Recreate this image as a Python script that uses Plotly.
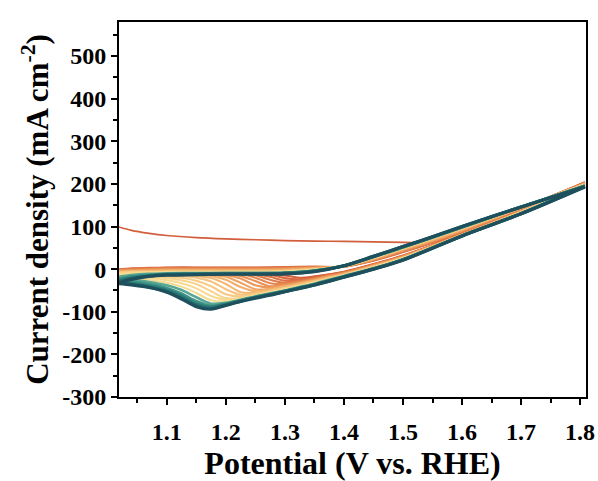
import plotly.graph_objects as go

# Potential grids (V vs. RHE) for the anodic (forward) and cathodic (reverse) sweeps
potential_fwd = [1.019, 1.04, 1.07, 1.10, 1.15, 1.20, 1.25, 1.30, 1.35, 1.40,
                 1.45, 1.50, 1.55, 1.60, 1.70, 1.808]
potential_rev = [1.808, 1.70, 1.60, 1.50, 1.45, 1.40, 1.375, 1.35, 1.325, 1.30,
                 1.275, 1.25, 1.225, 1.20, 1.175, 1.15, 1.125, 1.10, 1.07, 1.04, 1.019]

# First anodic sweep (starts from the rest potential with a large capacitive current)
first_scan_j = [99, 91, 84, 79, 74, 71, 69, 67, 66, 65, 64, 63, 63, 86, 142, 204]

# Anodic sweeps of cycles 2..20 (mA cm^-2), on potential_fwd
anodic_j = [
    [-1, 2, 3, 4, 4, 4, 4, 5, 6, 6, 20, 40, 62, 86, 142, 203],
    [-2, 1, 2, 3, 3, 3, 3, 4, 5, 6, 21, 41, 63, 87, 142, 203],
    [-3, 0, 1, 2, 2, 2, 2, 3, 4, 6, 21, 42, 64, 88, 142, 202],
    [-3, -1, 0, 1, 1, 1, 1, 2, 4, 6, 22, 43, 65, 89, 143, 202],
    [-4, -2, -1, 0, 0, 0, 0, 1, 3, 6, 23, 44, 66, 90, 143, 201],
    [-4, -3, -2, -1, -1, -1, -1, 0, 3, 7, 23, 45, 67, 91, 143, 201],
    [-5, -4, -3, -2, -2, -2, -2, -1, 2, 7, 24, 46, 68, 92, 144, 200],
    [-6, -5, -4, -3, -3, -3, -3, -2, 2, 7, 25, 47, 69, 93, 144, 200],
    [-6, -5, -5, -4, -4, -4, -4, -3, 1, 7, 25, 47, 70, 94, 144, 199],
    [-7, -6, -6, -5, -5, -5, -5, -4, 0, 7, 26, 48, 71, 95, 145, 199],
    [-8, -7, -7, -6, -6, -6, -6, -5, -1, 7, 26, 49, 72, 96, 145, 198],
    [-10, -8, -7, -7, -7, -7, -7, -5, -1, 7, 27, 50, 73, 97, 145, 198],
    [-12, -10, -8, -7, -7, -7, -7, -6, -2, 8, 28, 50, 73, 97, 145, 197],
    [-15, -12, -9, -8, -8, -8, -8, -7, -2, 8, 28, 51, 74, 98, 145, 197],
    [-18, -14, -11, -10, -9, -9, -9, -8, -3, 8, 29, 51, 74, 98, 146, 196],
    [-22, -17, -13, -11, -10, -10, -10, -9, -4, 8, 29, 52, 75, 99, 146, 195],
    [-26, -20, -15, -12, -11, -10, -10, -9, -4, 8, 29, 52, 75, 99, 146, 195],
    [-29, -22, -16, -13, -12, -11, -11, -10, -5, 8, 30, 53, 76, 100, 146, 194],
    [-32, -24, -17, -14, -13, -12, -12, -11, -6, 8, 30, 53, 76, 100, 146, 193],
]

# Cathodic sweeps of cycles 1..20 (mA cm^-2), on potential_rev
cathodic_j = [
    [204, 138, 82, 32, 12, -6, -12, -17, -20, -15, -10, -8, -8, -7, -7, -7, -6, -6, -5, -3, -1],
    [203, 138, 82, 31, 11, -7, -13, -19, -24, -21, -13, -9, -8, -8, -8, -7, -7, -6, -5, -4, -2],
    [203, 137, 82, 31, 11, -8, -14, -21, -27, -27, -18, -11, -9, -8, -8, -8, -7, -7, -6, -5, -3],
    [202, 137, 82, 30, 10, -8, -15, -22, -28, -32, -25, -14, -10, -9, -9, -8, -8, -7, -6, -5, -3],
    [202, 136, 81, 30, 10, -9, -16, -23, -30, -35, -33, -20, -12, -10, -9, -9, -8, -8, -7, -6, -4],
    [201, 136, 81, 29, 9, -10, -17, -24, -31, -37, -40, -28, -16, -11, -10, -10, -9, -9, -8, -6, -4],
    [201, 136, 81, 29, 8, -10, -17, -25, -32, -38, -43, -38, -22, -14, -11, -10, -10, -9, -8, -7, -5],
    [200, 135, 81, 28, 8, -11, -18, -26, -33, -40, -46, -47, -32, -18, -13, -11, -10, -10, -9, -8, -6],
    [200, 135, 80, 28, 7, -12, -19, -27, -34, -41, -47, -52, -42, -25, -16, -13, -12, -11, -10, -8, -6],
    [199, 134, 80, 27, 6, -12, -20, -28, -35, -42, -49, -55, -54, -35, -21, -16, -14, -12, -11, -9, -7],
    [199, 134, 80, 26, 6, -13, -21, -29, -37, -44, -51, -57, -60, -47, -29, -20, -16, -14, -12, -10, -8],
    [198, 133, 80, 26, 5, -14, -22, -30, -38, -45, -52, -59, -64, -59, -40, -27, -20, -17, -14, -12, -10],
    [198, 133, 79, 25, 4, -14, -23, -31, -39, -46, -54, -61, -67, -68, -52, -35, -26, -21, -17, -14, -12],
    [197, 132, 79, 25, 4, -15, -24, -32, -40, -47, -55, -62, -69, -72, -63, -45, -33, -26, -21, -17, -15],
    [197, 132, 79, 24, 3, -16, -25, -33, -41, -49, -56, -63, -71, -76, -73, -56, -41, -32, -25, -21, -18],
    [196, 131, 79, 23, 2, -16, -25, -34, -42, -50, -57, -64, -72, -79, -81, -66, -49, -38, -30, -25, -22],
    [195, 131, 78, 23, 1, -17, -26, -35, -43, -51, -58, -65, -73, -81, -86, -75, -57, -44, -35, -29, -26],
    [195, 130, 78, 22, 1, -18, -27, -36, -44, -52, -59, -66, -74, -82, -89, -81, -63, -49, -39, -33, -29],
    [194, 130, 78, 22, 0, -18, -28, -37, -45, -52, -60, -67, -75, -84, -92, -85, -67, -52, -42, -35, -32],
    [193, 130, 78, 21, 0, -19, -28, -37, -45, -53, -61, -68, -76, -85, -94, -88, -70, -54, -43, -37, -34],
]

# Colour of each cycle, from the first (red-orange) to the last (dark teal)
cycle_colors = [
    "#D25E3B", "#D8683F", "#DD7244", "#E17C49", "#E5864F",
    "#E99055", "#EC9A5C", "#EFA463", "#F2AE6B", "#F4B873",
    "#F6C27C", "#F7CB85", "#F8D38C", "#F7DA8F", "#F3DC92",
    "#5AA692", "#3C9488", "#2D7F78", "#24686D", "#1D4F5C",
]

x_ticks = [1.1, 1.2, 1.3, 1.4, 1.5, 1.6, 1.7, 1.8]
y_ticks = [-300, -200, -100, 0, 100, 200, 300, 400, 500]

FONT = "Liberation Serif"

fig = go.Figure()
n_cycles = len(cathodic_j)
for k in range(n_cycles):
    color = cycle_colors[k]
    if k >= n_cycles - 3:
        width = 3.2
    elif k >= n_cycles - 5:
        width = 2.6
    else:
        width = 2.1
    fwd = first_scan_j if k == 0 else anodic_j[k - 1]
    fig.add_trace(go.Scatter(
        x=potential_fwd, y=fwd, mode="lines",
        line=dict(color=color, width=width if k else 1.7, shape="spline", smoothing=0.9),
        showlegend=False, hoverinfo="skip",
    ))
    fig.add_trace(go.Scatter(
        x=potential_rev, y=cathodic_j[k], mode="lines",
        line=dict(color=color, width=width, shape="spline", smoothing=0.9),
        showlegend=False, hoverinfo="skip",
    ))

axis_common = dict(
    showline=True, linecolor="black", linewidth=2, mirror=True,
    ticks="outside", ticklen=6, tickwidth=2, tickcolor="black",
    showgrid=False, zeroline=False, automargin=False,
    ticklabeloverflow="allow",
    tickfont=dict(family=FONT, size=24, color="black", weight="bold"),
)

fig.update_xaxes(
    **axis_common,
    range=[1.019, 1.81],
    tickvals=x_ticks, ticktext=[f"{v:.1f}" for v in x_ticks],
    ticklabelstandoff=6,
    minor=dict(ticks="outside", ticklen=4, tickwidth=1.5, tickcolor="black",
               tick0=1.05, dtick=0.1),
    title=dict(text="Potential (V vs. RHE)", standoff=8,
               font=dict(family=FONT, size=32, color="black", weight="bold")),
)
fig.update_yaxes(
    **axis_common,
    range=[-300, 580],
    tickvals=y_ticks, ticktext=[str(v) for v in y_ticks],
    minor=dict(ticks="outside", ticklen=4, tickwidth=1.5, tickcolor="black",
               tick0=-250, dtick=100),
    title=dict(text="Current density (mA cm<sup>-2</sup>)", standoff=4,
               font=dict(family=FONT, size=31, color="black", weight="bold")),
)

fig.update_layout(
    width=598, height=481,
    margin=dict(l=119, r=12, t=22, b=84),
    paper_bgcolor="white", plot_bgcolor="white",
)

fig.write_html("out.html")
